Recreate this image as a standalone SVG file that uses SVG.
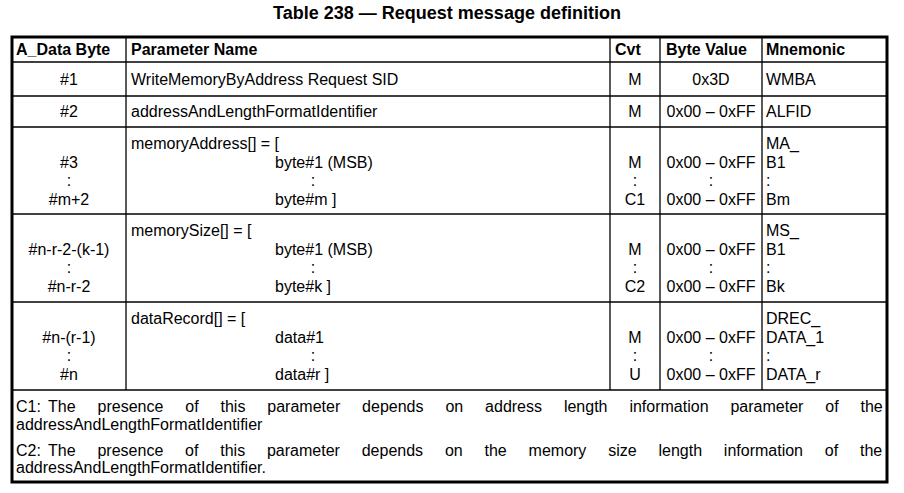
<svg xmlns="http://www.w3.org/2000/svg" width="904" height="493" viewBox="0 0 904 493">
<style>
text{font-family:"Liberation Sans",Arial,sans-serif;font-size:16px;fill:#000}
.h{font-weight:bold}
.t{font-weight:bold;font-size:18px}
.c{text-anchor:middle}
.in{stroke:#000;stroke-width:1.3;fill:none}
.out{stroke:#000;stroke-width:3;fill:none}
.j{word-spacing:17.45px}
.j2{word-spacing:17.37px}
</style>
<rect width="904" height="493" fill="#fff"/>
<text class="t c" x="447" y="18.5">Table 238 — Request message definition</text>
<g id="grid">
<line class="in" x1="12" y1="62" x2="887" y2="62"/>
<line class="in" x1="12" y1="96" x2="887" y2="96"/>
<line class="in" x1="12" y1="127" x2="887" y2="127"/>
<line class="in" x1="12" y1="214" x2="887" y2="214"/>
<line class="in" x1="12" y1="302" x2="887" y2="302"/>
<line class="in" x1="12" y1="390" x2="887" y2="390"/>
<line class="in" x1="126" y1="37" x2="126" y2="390"/>
<line class="in" x1="610" y1="37" x2="610" y2="390"/>
<line class="in" x1="660" y1="37" x2="660" y2="390"/>
<line class="in" x1="762" y1="37" x2="762" y2="390"/>
<rect class="out" x="12" y="37" width="875" height="445"/>
</g>
<g id="header">
<text class="h" x="16" y="55">A_Data Byte</text>
<text class="h" x="131" y="55">Parameter Name</text>
<text class="h" x="615" y="55">Cvt</text>
<text class="h" x="666" y="55">Byte Value</text>
<text class="h" x="766" y="55">Mnemonic</text>
</g>
<g id="row1">
<text class="c" x="69" y="85">#1</text>
<text x="131" y="85">WriteMemoryByAddress Request SID</text>
<text class="c" x="635" y="85">M</text>
<text class="c" x="711" y="85">0x3D</text>
<text x="766" y="85">WMBA</text>
</g>
<g id="row2">
<text class="c" x="69" y="117">#2</text>
<text x="131" y="117">addressAndLengthFormatIdentifier</text>
<text class="c" x="635" y="117">M</text>
<text class="c" x="711" y="117">0x00 – 0xFF</text>
<text x="766" y="117">ALFID</text>
</g>
<g id="row3">
<text x="131" y="149">memoryAddress[] = [</text>
<text x="766" y="149">MA_</text>
<text class="c" x="69" y="167.5">#3</text>
<text x="275" y="167.5">byte#1 (MSB)</text>
<text class="c" x="635" y="167.5">M</text>
<text class="c" x="711" y="167.5">0x00 – 0xFF</text>
<text x="766" y="167.5">B1</text>
<text class="c" x="69" y="186">:</text>
<text class="c" x="313" y="186">:</text>
<text class="c" x="635" y="186">:</text>
<text class="c" x="711" y="186">:</text>
<text x="766" y="186">:</text>
<text class="c" x="69" y="204.5">#m+2</text>
<text x="275" y="204.5">byte#m ]</text>
<text class="c" x="635" y="204.5">C1</text>
<text class="c" x="711" y="204.5">0x00 – 0xFF</text>
<text x="766" y="204.5">Bm</text>
</g>
<g id="row4">
<text x="131" y="236">memorySize[] = [</text>
<text x="766" y="236">MS_</text>
<text class="c" x="69" y="254.5">#n-r-2-(k-1)</text>
<text x="275" y="254.5">byte#1 (MSB)</text>
<text class="c" x="635" y="254.5">M</text>
<text class="c" x="711" y="254.5">0x00 – 0xFF</text>
<text x="766" y="254.5">B1</text>
<text class="c" x="69" y="273">:</text>
<text class="c" x="313" y="273">:</text>
<text class="c" x="635" y="273">:</text>
<text class="c" x="711" y="273">:</text>
<text x="766" y="273">:</text>
<text class="c" x="69" y="291.5">#n-r-2</text>
<text x="275" y="291.5">byte#k ]</text>
<text class="c" x="635" y="291.5">C2</text>
<text class="c" x="711" y="291.5">0x00 – 0xFF</text>
<text x="766" y="291.5">Bk</text>
</g>
<g id="row5">
<text x="131" y="324">dataRecord[] = [</text>
<text x="766" y="324">DREC_</text>
<text class="c" x="69" y="342.5">#n-(r-1)</text>
<text x="275" y="342.5">data#1</text>
<text class="c" x="635" y="342.5">M</text>
<text class="c" x="711" y="342.5">0x00 – 0xFF</text>
<text x="766" y="342.5">DATA_1</text>
<text class="c" x="69" y="361">:</text>
<text class="c" x="313" y="361">:</text>
<text class="c" x="635" y="361">:</text>
<text class="c" x="711" y="361">:</text>
<text x="766" y="361">:</text>
<text class="c" x="69" y="379.5">#n</text>
<text x="275" y="379.5">data#r ]</text>
<text class="c" x="635" y="379.5">U</text>
<text class="c" x="711" y="379.5">0x00 – 0xFF</text>
<text x="766" y="379.5">DATA_r</text>
</g>
<g id="notes">
<text x="16" y="411.5">C1:<tspan dx="3"> The</tspan><tspan class="j"> presence of this parameter depends on address length information parameter of the</tspan></text>
<text x="16" y="429.5">addressAndLengthFormatIdentifier</text>
<text x="16" y="455.5">C2:<tspan dx="3"> The</tspan><tspan class="j2"> presence of this parameter depends on the memory size length information of the</tspan></text>
<text x="16" y="472.5">addressAndLengthFormatIdentifier.</text>
</g>
</svg>
